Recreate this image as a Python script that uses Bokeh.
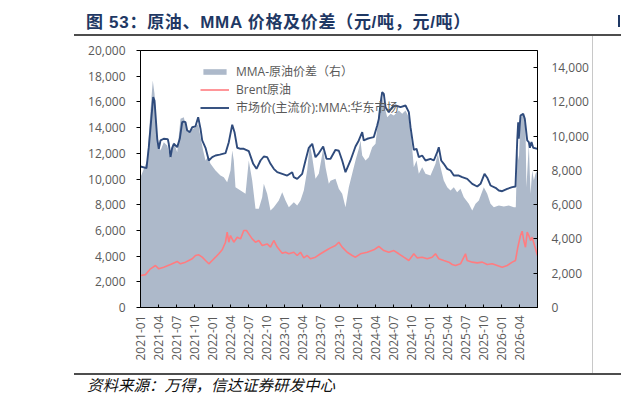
from bokeh.plotting import figure
from bokeh.models import (Range1d, LinearAxis, FixedTicker, NumeralTickFormatter,
                          Legend, LegendItem, Div)
from bokeh.layouts import column, row
from bokeh.embed import file_html
from bokeh.resources import INLINE

# ---------------- texts ----------------
title_text = "图 53：原油、MMA 价格及价差（元/吨，元/吨）"
source_text = "资料来源：万得，信达证券研发中心"
name_spread = "MMA-原油价差（右）"
name_brent = "Brent原油"
name_mma = "市场价(主流价):MMA:华东市场"

# ---------------- axes ----------------
tick_labels = ["2021-01", "2021-04", "2021-07", "2021-10", "2022-01", "2022-04",
               "2022-07", "2022-10", "2023-01", "2023-04", "2023-07", "2023-10",
               "2024-01", "2024-04", "2024-07", "2024-10", "2025-01", "2025-04",
               "2025-07", "2025-10", "2026-01", "2026-04"]
left_ticks = [0, 2000, 4000, 6000, 8000, 10000, 12000, 14000, 16000, 18000, 20000]
right_ticks = [0, 2000, 4000, 6000, 8000, 10000, 12000, 14000]

# ---------------- data (x = months since 2021-01) ----------------
mma_t = [0.0, 1.0, 1.38, 2.11, 2.33, 2.78, 3.04, 3.33, 3.87, 4.54,
         4.70, 4.99, 5.27, 5.54, 6.10, 6.53, 6.93, 7.20, 7.48, 7.76,
         8.20, 8.60, 9.14, 9.59, 9.98, 10.26, 10.81, 11.36, 11.92, 12.47,
         13.18, 14.13, 14.68, 15.25, 15.63, 16.08, 16.63, 17.17, 18.0, 18.74,
         19.29, 19.95, 20.50, 21.06, 21.61, 22.16, 22.73, 23.56, 24.39, 25.22,
         25.49, 26.05, 26.88, 27.43, 27.98, 28.55, 29.09, 29.64, 30.37, 30.92,
         31.59, 32.42, 32.97, 33.53, 34.08, 34.91, 35.74, 36.29, 36.86, 37.12,
         37.69, 38.24, 38.79, 39.35, 39.62, 39.90, 40.18, 40.45, 40.73, 41.28,
         41.85, 42.39, 43.23, 44.06, 44.61, 44.89, 45.44, 45.89, 46.27, 46.83,
         47.38, 48.21, 48.76, 49.33, 49.59, 49.99, 50.42, 50.99, 51.54, 52.09,
         52.92, 53.48, 54.31, 55.15, 55.98, 56.53, 57.19, 57.64, 58.19, 59.02,
         59.57, 60.13, 60.96, 61.80, 62.34, 62.63, 62.79, 62.89, 63.17, 63.62,
         63.89, 64.29, 64.56, 64.73, 65.0, 65.29, 66.0]
mma_v = [10970, 10840, 12475, 16370, 16100, 13130, 12350, 13000, 13130, 13100,
         12740, 11700, 12430, 12740, 12480, 13130, 14420, 14470, 14420, 13775,
         13650, 14030, 14100, 14810, 13900, 13000, 12430, 11440, 11700, 11830,
         11900, 12010, 12865, 14220, 13645, 12430, 12350, 12350, 12165, 11180,
         10790, 11440, 11750, 11700, 11180, 10790, 10530, 10400, 10270, 10530,
         10140, 10010, 10400, 11440, 12430, 12740, 11700, 12000, 12530, 11570,
         11570, 12270, 12200, 11440, 10530, 11440, 12530, 13000, 13640, 13000,
         13130, 13200, 13260, 14160, 14680, 15850, 16755, 16630, 15590, 15200,
         15590, 15720, 15590, 15720, 15200, 14030, 12270, 12350, 11700, 11830,
         11440, 11570, 11440, 12090, 12475, 11440, 11180, 10790, 10660, 10270,
         10270, 10140, 10010, 9625, 9415, 9625, 10400, 10100, 9495, 9315,
         9105, 9050, 9235, 9365, 9415, 13000, 14420, 13130, 14940, 15070,
         14680, 13000, 12870, 12430, 12870, 12430, 12350]

brent_t = [0.0, 0.83, 1.66, 2.49, 3.04, 3.87, 4.99, 6.10, 6.65, 7.48,
           8.03, 8.60, 9.14, 9.69, 10.26, 10.81, 11.36, 11.92, 12.47, 13.02,
           13.58, 14.13, 14.41, 14.68, 14.96, 15.51, 16.08, 16.63, 17.17, 17.62,
           18.0, 18.57, 19.12, 19.67, 20.23, 21.06, 21.61, 22.16, 22.73, 23.56,
           24.11, 24.66, 25.49, 26.05, 26.60, 27.15, 27.71, 28.26, 29.09, 29.93,
           31.04, 31.59, 32.42, 32.97, 33.53, 34.36, 35.19, 35.74, 36.57, 37.69,
           38.79, 39.62, 40.45, 41.28, 42.12, 42.94, 43.77, 44.61, 45.44, 45.99,
           46.83, 47.66, 48.49, 49.04, 49.59, 50.42, 51.26, 51.82, 52.37, 53.20,
           54.03, 54.31, 55.15, 55.98, 56.82, 57.64, 58.47, 59.30, 60.13, 60.96,
           61.80, 62.34, 62.73, 63.17, 63.45, 63.72, 64.00, 64.29, 64.56, 64.84,
           65.12, 65.50, 66.0]
brent_v = [2490, 2560, 3010, 3270, 3010, 3140, 3345, 3580, 3400, 3530,
           3660, 3790, 4050, 4100, 3915, 3660, 3400, 3660, 3915, 4180,
           4490, 5080, 5860, 5080, 5600, 5080, 5470, 5340, 5990, 5990,
           5730, 5340, 5080, 5210, 4825, 4950, 4700, 5215, 4700, 4230,
           4300, 4180, 4300, 4050, 4300, 3865, 4050, 3790, 3915, 4180,
           4490, 4640, 4825, 5080, 4700, 4300, 4050, 3915, 4180, 4300,
           4490, 4750, 4430, 4300, 4430, 4180, 3915, 3660, 4180, 3865,
           3915, 3790, 3915, 4180, 3790, 3660, 3530, 3345, 3270, 3400,
           4180, 3660, 3530, 3470, 3530, 3345, 3400, 3270, 3140, 3270,
           3530, 3660, 4690, 5600, 5940, 5210, 4690, 5860, 5600, 5210,
           5470, 4825, 4050]

spread_t = [0.0, 1.11, 1.66, 2.04, 2.33, 2.78, 3.33, 3.87, 4.44, 4.99,
            5.54, 6.10, 6.65, 7.20, 7.76, 8.31, 9.14, 9.59, 9.98, 10.42,
            10.81, 11.19, 11.64, 12.47, 13.30, 13.85, 14.41, 14.96, 15.25, 15.51,
            15.79, 16.63, 17.46, 18.0, 18.57, 19.12, 19.67, 20.23, 20.50, 21.06,
            21.61, 22.16, 22.99, 23.56, 24.11, 24.66, 25.49, 26.05, 26.60, 27.15,
            27.71, 28.15, 28.55, 29.09, 29.64, 30.37, 30.76, 31.31, 31.59, 32.42,
            32.97, 33.53, 34.08, 34.63, 35.19, 35.74, 36.29, 36.57, 36.86, 37.41,
            37.96, 38.52, 39.07, 39.62, 40.02, 40.45, 41.02, 41.57, 42.12, 42.94,
            43.51, 44.06, 44.61, 45.01, 45.44, 45.89, 46.27, 46.83, 47.38, 48.21,
            49.04, 49.42, 49.88, 50.42, 50.99, 51.54, 52.09, 52.64, 53.20, 53.75,
            54.58, 55.15, 55.70, 56.25, 57.07, 57.64, 58.19, 58.74, 59.57, 60.40,
            61.23, 62.06, 62.39, 62.63, 62.90, 63.17, 63.62, 64.00, 64.16, 64.56,
            64.84, 65.12, 65.39, 65.67, 66.0]
spread_v = [7605, 8580, 11500, 13250, 12475, 9850, 9165, 9650, 9455, 8680,
            9650, 9065, 11015, 11110, 10230, 10330, 10525, 10720, 9940, 9165,
            8580, 8775, 8385, 7995, 7705, 7605, 7315, 7995, 9165, 8580,
            7020, 6830, 6635, 8580, 7410, 5760, 5760, 6440, 7220, 6635,
            5660, 5855, 6245, 6730, 6245, 5855, 6150, 5955, 6245, 6830,
            7995, 9555, 8775, 7510, 7800, 9260, 8190, 7220, 7400, 7510,
            6930, 6635, 5855, 7020, 7800, 8580, 9260, 9750, 8870, 8580,
            8775, 9355, 9555, 11305, 12475, 11890, 11110, 11305, 11205, 11500,
            11305, 11500, 11110, 9940, 8190, 8580, 7800, 8190, 7800, 7705,
            8385, 8970, 8190, 7415, 7020, 6830, 7020, 6730, 6930, 6440,
            6050, 5660, 6050, 6245, 7020, 6635, 6050, 5855, 5950, 5900,
            5950, 5855, 5855, 9165, 8580, 11110, 11305, 10530, 7020, 9555,
            6635, 7995, 7410, 7800, 7995]

# ---------------- styles ----------------
AREA_COLOR = "#adb9ca"
MMA_COLOR = "#2f4b7c"
BRENT_COLOR = "#ff7c80"
LABEL_COLOR = "#595959"
LATIN_FONT = "'Open Sans', 'Noto Sans CJK SC'"

x_ticks = [(int(s[:4]) - 2021) * 12 + int(s[5:]) - 1 for s in tick_labels]

p = figure(width=592, height=333, output_backend="svg", toolbar_location=None,
           title=None, x_range=Range1d(0, 66), y_range=Range1d(0, 20000),
           min_border_left=140, min_border_right=55, min_border_top=10,
           min_border_bottom=66, background_fill_color="white",
           border_fill_color="white", outline_line_color="black",
           outline_line_width=1)
p.extra_y_ranges = {"spread": Range1d(0, 15000)}
p.grid.visible = False

r_area = p.varea(x=spread_t, y1=0, y2=spread_v, y_range_name="spread",
                 fill_color=AREA_COLOR, fill_alpha=1.0)
r_brent = p.line(brent_t, brent_v, line_color=BRENT_COLOR, line_width=1.6)
r_mma = p.line(mma_t, mma_v, line_color=MMA_COLOR, line_width=1.9)

# x axis
xa = p.xaxis[0]
xa.ticker = FixedTicker(ticks=x_ticks)
xa.major_label_overrides = {t: s for t, s in zip(x_ticks, tick_labels)}
xa.major_label_orientation = 1.5707963
xa.major_tick_in = 3
xa.major_tick_out = 0
xa.minor_tick_line_color = None
xa.major_label_standoff = 8

# left axis
ya = p.yaxis[0]
ya.ticker = FixedTicker(ticks=left_ticks)
ya.formatter = NumeralTickFormatter(format="0,0")
ya.major_tick_in = 0
ya.major_tick_out = 4
ya.minor_tick_line_color = None
ya.major_label_standoff = 11

# right axis
ra = LinearAxis(y_range_name="spread", ticker=FixedTicker(ticks=right_ticks),
                formatter=NumeralTickFormatter(format="0,0"))
ra.major_tick_in = 4
ra.major_tick_out = 0
ra.minor_tick_line_color = None
ra.major_label_standoff = 14
p.add_layout(ra, "right")

for ax in (xa, ya, ra):
    ax.axis_line_color = "black"
    ax.axis_line_width = 1
    ax.major_tick_line_color = "black"
    ax.major_label_text_font = LATIN_FONT
    ax.major_label_text_font_size = "12px"
    ax.major_label_text_color = LABEL_COLOR

legend = Legend(items=[LegendItem(label=name_spread, renderers=[r_area]),
                       LegendItem(label=name_brent, renderers=[r_brent]),
                       LegendItem(label=name_mma, renderers=[r_mma])],
                location=(60, 191), orientation="vertical",
                background_fill_alpha=0, border_line_color=None,
                padding=0, margin=0, spacing=0,
                glyph_width=29, glyph_height=7, label_height=17,
                label_standoff=7, label_text_font=LATIN_FONT,
                label_text_font_size="12px", label_text_color=LABEL_COLOR)
p.add_layout(legend)

head_html = (
    '<div style="position:relative;width:621px;height:40px;">'
    '<div style="position:absolute;left:86px;top:13px;white-space:nowrap;'
    'font-family:\'Liberation Sans\',\'Noto Sans CJK SC\';font-weight:bold;'
    'font-size:17px;letter-spacing:0.7px;line-height:20px;color:#1f3864;">'
    + title_text + '</div>'
    '<div style="position:absolute;left:74px;top:34px;width:547px;height:0;'
    'border-top:2px solid #4d4d4d;"></div>'
    '<div style="position:absolute;left:592px;top:36px;width:0;height:4px;'
    'border-left:1px solid #c8c8c8;"></div>'
    '<div style="position:absolute;left:618px;top:15px;width:2px;height:12px;'
    'background:#1f3864;"></div>'
    '</div>'
)
side_html = ('<div style="width:0;height:333px;border-left:1px solid #c8c8c8;">'
             '</div>')
foot_html = (
    '<div style="position:relative;width:621px;height:30px;">'
    '<div style="position:absolute;left:74px;top:0px;width:547px;height:0;'
    'border-top:2px solid #4d4d4d;"></div>'
    '<div style="position:absolute;left:87px;top:2px;white-space:nowrap;'
    'font-family:\'Noto Sans CJK SC\';font-style:italic;font-size:15.5px;'
    'line-height:18px;color:#111;">' + source_text + '</div>'
    '</div>'
)

head = Div(text=head_html, width=621, height=40, margin=0)
side = Div(text=side_html, width=29, height=333, margin=0)
foot = Div(text=foot_html, width=621, height=30, margin=0)

layout = column(head, row(p, side, spacing=0), foot, spacing=0)

open("out.html", "w").write(file_html(layout, INLINE))
